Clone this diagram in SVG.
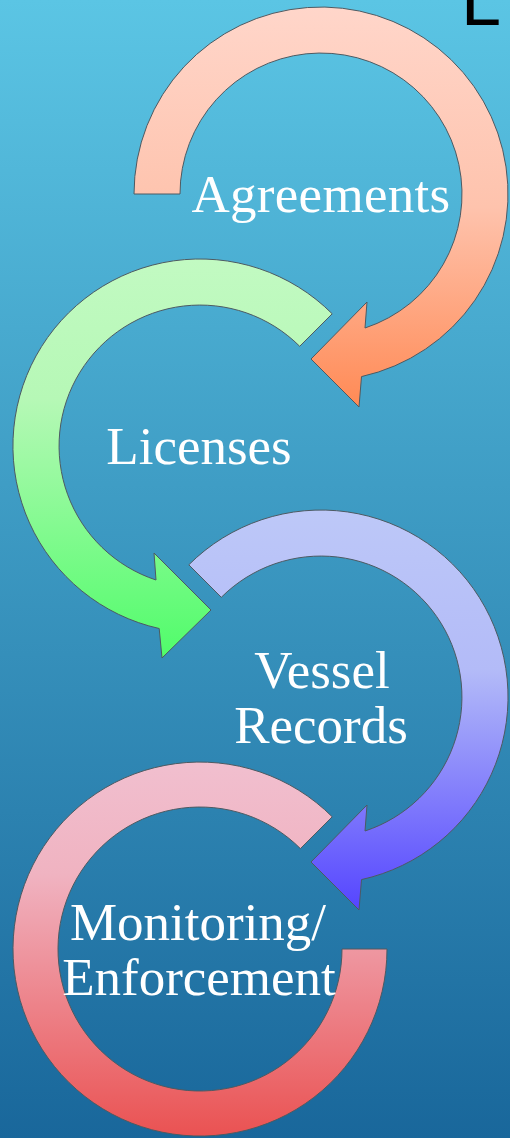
<svg xmlns="http://www.w3.org/2000/svg" width="510" height="1138" viewBox="0 0 510 1138">
<defs>
<linearGradient id="bg" x1="0" y1="0" x2="0" y2="1">
<stop offset="0" stop-color="#5bc5e4"/>
<stop offset="1" stop-color="#19679b"/>
</linearGradient>
<linearGradient id="g1" x1="0" y1="0" x2="0" y2="1">
<stop offset="0" stop-color="#ffd6ca"/>
<stop offset="0.5" stop-color="#fec3ad"/>
<stop offset="1" stop-color="#ff8a55"/>
</linearGradient>
<linearGradient id="g2" x1="0" y1="0" x2="0" y2="1">
<stop offset="0" stop-color="#c2fac2"/>
<stop offset="0.35" stop-color="#b6f8b6"/>
<stop offset="1" stop-color="#50fc6a"/>
</linearGradient>
<linearGradient id="g3" x1="0" y1="0" x2="0" y2="1">
<stop offset="0" stop-color="#bdc8f8"/>
<stop offset="0.4" stop-color="#b3bbf8"/>
<stop offset="1" stop-color="#5545ff"/>
</linearGradient>
<linearGradient id="g4" x1="0" y1="0" x2="0" y2="1">
<stop offset="0" stop-color="#f1bfcf"/>
<stop offset="0.3" stop-color="#f0b3c1"/>
<stop offset="1" stop-color="#ea5252"/>
</linearGradient>
</defs>
<style>
.arr{stroke:#4d5a62;stroke-width:1;stroke-linejoin:miter}
.lbl{font-family:"Liberation Serif","Times New Roman",serif;font-size:53px;fill:#ffffff;text-anchor:middle}
</style>
<rect x="0" y="0" width="510" height="1138" fill="url(#bg)"/>
<text x="461" y="25" font-family="Liberation Sans, Arial, sans-serif" font-size="72" fill="#000000">L</text>
<g id="connectors">
<path class="arr" fill="url(#g1)" d="M134,194 A187,187 0 1 1 361.5,376.6 L359,407 L311,359 L367,302 L365,328 A141,141 0 1 0 180,194 Z"/>
<path class="arr" fill="url(#g2)" d="M332.2,313.8 A187,187 0 1 0 159.2,628.5 L162,658 L211,610 L154,553 L156,580 A141,141 0 1 1 299.7,346.3 Z"/>
<path class="arr" fill="url(#g3)" d="M188.8,564.8 A187,187 0 1 1 361.5,879.6 L359,910 L311,862 L367,805 L365,831 A141,141 0 1 0 221.3,597.3 Z"/>
<path class="arr" fill="url(#g4)" d="M387,949 A187,187 0 1 1 332.2,816.8 L300.4,848.6 A142,142 0 1 0 342,949 Z"/>
</g>
<g id="agreements"><text class="lbl" x="321" y="212" letter-spacing="0.3">Agreements</text></g>
<g id="licenses"><text class="lbl" x="199" y="464">Licenses</text></g>
<g id="vessel-records"><text class="lbl" x="322" y="688">Vessel</text><text class="lbl" x="321" y="743">Records</text></g>
<g id="monitoring"><text class="lbl" x="198" y="940">Monitoring/</text><text class="lbl" x="199" y="995">Enforcement</text></g>
</svg>
